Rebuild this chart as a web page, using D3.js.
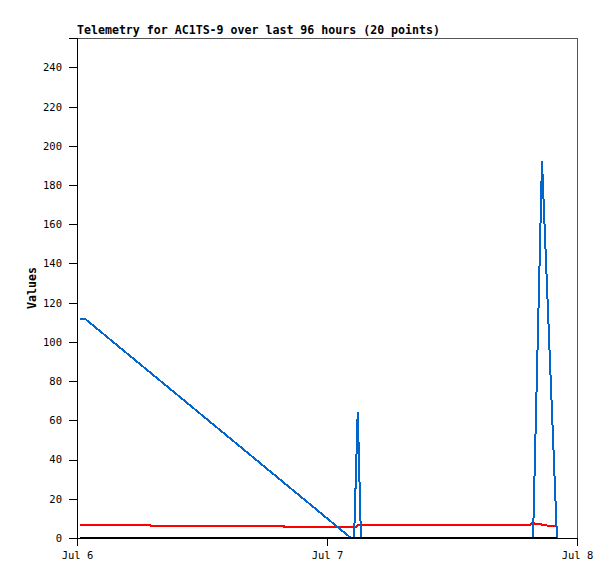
<!DOCTYPE html>
<html>
<head>
<meta charset="utf-8">
<script src="https://cdn.jsdelivr.net/npm/d3@7"></script>
<style>
  body { margin: 0; background: #fff; }
  svg { display: block; }
</style>
</head>
<body>
<div id="chart"></div>
<script>
// DATA (hours after Jul 6 00:00, value)
const blueHours = [0.29, 0.77, 26.3, 26.6, 26.95, 27.26, 43.78, 44.64, 46.08];
const blueValues = [111.8, 111.8, 0, 0, 64.5, 0, 0, 192.5, 0];

const redHours = [0.29, 7.0, 7.05, 19.85, 19.9, 26.8, 27.0, 43.5, 43.73, 43.97, 44.45, 44.9, 45.4, 46.0];
const redValues = [6.6, 6.6, 6.1, 6.1, 5.6, 5.6, 6.6, 6.6, 8.0, 7.1, 7.0, 6.6, 6.1, 5.9];

const blackHours = [0.29, 46.08];
const blackValues = [0, 0];

const yTicks = [0, 20, 40, 60, 80, 100, 120, 140, 160, 180, 200, 220, 240];
const xTickLabels = ["Jul 6", "Jul 7", "Jul 8"];

const titleText = "Telemetry for AC1TS-9 over last 96 hours (20 points)";
const yLabel = "Values";

const W = 615, H = 579;
const margin = { top: 38, right: 38, bottom: 41, left: 77 };
const width = W - margin.left - margin.right;
const height = H - margin.top - margin.bottom;

const start = new Date(Date.UTC(2024, 6, 6));
const toDate = h => new Date(start.getTime() + h * 3600 * 1000);

const svg = d3.select("#chart").append("svg")
  .attr("width", W)
  .attr("height", H);

const g = svg.append("g")
  .attr("transform", `translate(${margin.left},${margin.top})`);

const x = d3.scaleUtc()
  .domain([start, toDate(48)])
  .range([0, width]);

const y = d3.scaleLinear()
  .domain([0, 255])
  .range([height, 0]);

// frame
g.append("rect")
  .attr("width", width)
  .attr("height", height)
  .attr("fill", "none")
  .attr("stroke", "#555")
  .attr("stroke-width", 1)
  .attr("shape-rendering", "crispEdges");

// y axis
const yAxis = g.append("g")
  .call(d3.axisLeft(y).tickValues(yTicks).tickSize(8).tickPadding(7));
yAxis.select(".domain").attr("stroke", "#000");
yAxis.selectAll("line").attr("stroke", "#000");
yAxis.selectAll("text")
  .attr("font-family", "'DejaVu Sans Mono', monospace")
  .attr("font-size", "10.5px")
  .attr("fill", "#000");

// x axis
const xAxis = g.append("g")
  .attr("transform", `translate(0,${height})`)
  .call(d3.axisBottom(x)
    .tickValues(xTickLabels.map((d, i) => toDate(24 * i)))
    .tickFormat((d, i) => xTickLabels[i])
    .tickSize(8)
    .tickPadding(6));
xAxis.select(".domain").attr("stroke", "#000");
xAxis.selectAll("line").attr("stroke", "#000");
xAxis.selectAll("text")
  .attr("font-family", "'DejaVu Sans Mono', monospace")
  .attr("font-size", "10.5px")
  .attr("fill", "#000");
svg.selectAll(".domain, .tick line").attr("shape-rendering", "crispEdges");

// lines
const line = d3.line()
  .x(d => x(toDate(d[0])))
  .y(d => y(d[1]));

const series = [
  { hours: redHours, values: redValues, color: "#ff0000", w: 2 },
  { hours: blueHours, values: blueValues, color: "#0066cc", w: 2 },
  { hours: blackHours, values: blackValues, color: "#000000", w: 2.5 }
];

series.forEach(s => {
  g.append("path")
    .datum(s.hours.map((h, i) => [h, s.values[i]]))
    .attr("d", line)
    .attr("fill", "none")
    .attr("stroke", s.color)
    .attr("stroke-width", s.w)
    .attr("shape-rendering", "crispEdges");
});

// title
svg.append("text")
  .attr("x", margin.left)
  .attr("y", 34)
  .attr("font-family", "'DejaVu Sans Mono', monospace")
  .attr("font-weight", "bold")
  .attr("font-size", "11.6px")
  .attr("fill", "#000")
  .text(titleText);

// y label
svg.append("text")
  .attr("transform", `translate(36,${margin.top + height / 2}) rotate(-90)`)
  .attr("text-anchor", "middle")
  .attr("font-family", "'DejaVu Sans Mono', monospace")
  .attr("font-weight", "bold")
  .attr("font-size", "11.6px")
  .attr("fill", "#000")
  .text(yLabel);
</script>
</body>
</html>
